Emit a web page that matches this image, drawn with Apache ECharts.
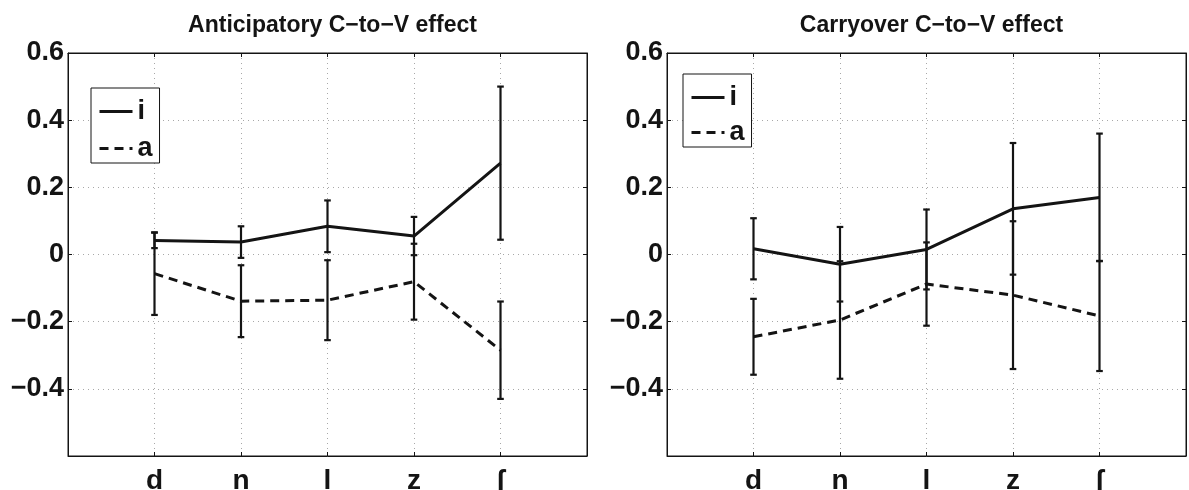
<!DOCTYPE html>
<html>
<head>
<meta charset="utf-8">
<script src="https://cdn.jsdelivr.net/npm/echarts@6/dist/echarts.min.js"></script>
<style>
html,body{margin:0;padding:0;background:#fff;}
#chart{width:1189px;height:490px;}
</style>
</head>
<body>
<div id="chart"></div>
<script>
// ---- data ----
const categories = ['d', 'n', 'l', 'z', 'ʃ'];
const yTicks = [-0.6, -0.4, -0.2, 0, 0.2, 0.4, 0.6];
const titles = ['Anticipatory C\u2212to\u2212V effect', 'Carryover C\u2212to\u2212V effect'];
const seriesNames = ['i', 'a'];

const antI    = [0.042, 0.037, 0.084, 0.055, 0.272];
const antIErr = [0.023, 0.047, 0.077, 0.057, 0.228];
const antA    = [-0.057, -0.139, -0.136, -0.081, -0.285];
const antAErr = [0.123, 0.107, 0.119, 0.113, 0.145];

const carI    = [0.017, -0.029, 0.015, 0.136, 0.170];
const carIErr = [0.091, 0.111, 0.119, 0.196, 0.190];
const carA    = [-0.245, -0.195, -0.088, -0.121, -0.183];
const carAErr = [0.113, 0.175, 0.124, 0.220, 0.164];

// ---- chart ----
const FONT = '"Liberation Sans", Arial, Helvetica, sans-serif';
const INK = '#141414';
const chart = echarts.init(document.getElementById('chart'), null, {renderer: 'canvas'});

const grids = [
  {left: 68, top: 53, width: 519, height: 403},
  {left: 667, top: 53, width: 519, height: 403}
];

function fmtY(v) {
  if (Math.abs(v + 0.6) < 1e-9) return '';
  if (Math.abs(v) < 1e-9) return '0';
  return v.toFixed(1).replace('-', '\u2212');
}

const GRIDLINE = {color: '#a8a8a8', type: [1, 4], width: 1};
const xAxes = [], yAxes = [];
grids.forEach((g, gi) => {
  xAxes.push({
    type: 'value', gridIndex: gi, position: 'bottom', min: 0, max: categories.length + 1, interval: 1,
    axisLine: {show: true, onZero: false, lineStyle: {color: INK, width: 1}},
    axisTick: {show: true, inside: true, length: 4, lineStyle: {color: INK}},
    axisLabel: {
      show: true, margin: 11, color: INK, fontFamily: FONT, fontWeight: 'bold', fontSize: 28,
      formatter: v => categories[v - 1] || ''
    },
    splitLine: {show: true, lineStyle: GRIDLINE}
  });
  xAxes.push({
    type: 'value', gridIndex: gi, position: 'top', min: 0, max: categories.length + 1, interval: 1,
    axisLine: {show: true, onZero: false, lineStyle: {color: INK, width: 1}},
    axisTick: {show: true, inside: true, length: 4, lineStyle: {color: INK}},
    axisLabel: {show: false}, splitLine: {show: false}
  });
  yAxes.push({
    type: 'value', gridIndex: gi, position: 'left', min: yTicks[0], max: yTicks[yTicks.length - 1], interval: 0.2,
    axisLine: {show: true, onZero: false, lineStyle: {color: INK, width: 1}},
    axisTick: {show: true, inside: true, length: 4, lineStyle: {color: INK}},
    axisLabel: {show: true, margin: 4, color: INK, fontFamily: FONT, fontWeight: 'bold', fontSize: 27, formatter: fmtY},
    splitLine: {show: true, lineStyle: GRIDLINE}
  });
  yAxes.push({
    type: 'value', gridIndex: gi, position: 'right', min: yTicks[0], max: yTicks[yTicks.length - 1], interval: 0.2,
    axisLine: {show: true, onZero: false, lineStyle: {color: INK, width: 1}},
    axisTick: {show: true, inside: true, length: 4, lineStyle: {color: INK}},
    axisLabel: {show: false}, splitLine: {show: false}
  });
});

function lineData(vals) { return vals.map((v, i) => [i + 1, v]); }
function errData(vals, errs) { return vals.map((v, i) => [i + 1, v - errs[i], v + errs[i]]); }

function errorSeries(gi, vals, errs) {
  return {
    type: 'custom', xAxisIndex: gi * 2, yAxisIndex: gi * 2, silent: true, z: 3,
    data: errData(vals, errs),
    renderItem: function (params, api) {
      const x = api.value(0);
      const lo = api.coord([x, api.value(1)]);
      const hi = api.coord([x, api.value(2)]);
      const hw = 3.3;
      const st = {stroke: INK, lineWidth: 2.2};
      return {
        type: 'group',
        children: [
          {type: 'line', shape: {x1: lo[0], y1: lo[1], x2: hi[0], y2: hi[1]}, style: st},
          {type: 'line', shape: {x1: lo[0] - hw, y1: lo[1], x2: lo[0] + hw, y2: lo[1]}, style: st},
          {type: 'line', shape: {x1: hi[0] - hw, y1: hi[1], x2: hi[0] + hw, y2: hi[1]}, style: st}
        ]
      };
    }
  };
}

function lineSeries(gi, name, vals, dashed) {
  return {
    type: 'line', name: name, xAxisIndex: gi * 2, yAxisIndex: gi * 2, z: 4,
    data: lineData(vals), symbol: 'none', silent: true,
    lineStyle: {color: INK, width: 3, type: dashed ? [9, 6] : 'solid'},
    itemStyle: {color: INK}
  };
}

const series = [
  errorSeries(0, antI, antIErr), errorSeries(0, antA, antAErr),
  lineSeries(0, seriesNames[0], antI, false), lineSeries(0, seriesNames[1], antA, true),
  errorSeries(1, carI, carIErr), errorSeries(1, carA, carAErr),
  lineSeries(1, seriesNames[0], carI, false), lineSeries(1, seriesNames[1], carA, true)
];

function legendAt(left, top, gap) {
  return {
    left: left, top: top, orient: 'vertical', data: seriesNames,
    selectedMode: false, backgroundColor: '#fff',
    borderColor: INK, borderWidth: 1, padding: [10, 7, 1, 7],
    itemWidth: 33, itemHeight: 14, itemGap: gap,
    itemStyle: {opacity: 0, color: 'transparent', borderWidth: 0},
    lineStyle: {width: 3},
    textStyle: {color: INK, fontFamily: FONT, fontWeight: 'bold', fontSize: 27}
  };
}

chart.setOption({
  animation: false,
  backgroundColor: '#fff',
  title: titles.map((t, gi) => ({
    text: t, left: grids[gi].left + grids[gi].width / 2, top: 9, textAlign: 'center',
    textStyle: {color: INK, fontFamily: FONT, fontWeight: 'bold', fontSize: 23}
  })),
  legend: [legendAt(91, 88, 10), legendAt(683, 74, 8)],
  grid: grids.map(g => Object.assign({show: true, borderColor: INK, borderWidth: 1, backgroundColor: 'transparent', containLabel: false, outerBoundsMode: 'none'}, g)),
  xAxis: xAxes,
  yAxis: yAxes,
  series: series
});
</script>
</body>
</html>
